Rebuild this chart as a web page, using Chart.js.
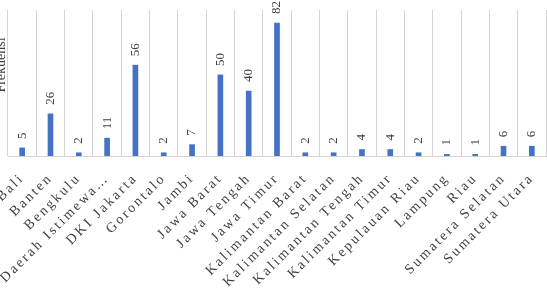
<!DOCTYPE html>
<html>
<head>
<meta charset="utf-8">
<script src="https://cdn.jsdelivr.net/npm/chart.js@4.4.1/dist/chart.umd.min.js"></script>
<style>
  html, body { margin: 0; padding: 0; background: #fff; overflow: hidden; }
</style>
</head>
<body>
<canvas id="mycanvas" width="547" height="292"></canvas>
<script>
var provinsi = ["Bali", "Banten", "Bengkulu", "Daerah Istimewa\u2026", "DKI Jakarta", "Gorontalo", "Jambi",
	"Jawa Barat", "Jawa Tengah", "Jawa Timur", "Kalimantan Barat", "Kalimantan Selatan",
	"Kalimantan Tengah", "Kalimantan Timur", "Kepulauan Riau", "Lampung", "Riau",
	"Sumatera Selatan", "Sumatera Utara"];
var frekuensi = [5, 26, 2, 11, 56, 2, 7, 50, 40, 82, 2, 2, 4, 4, 2, 1, 1, 6, 6];
var yMin = 0;
var yMax = 90;
var yTitle = "Frekuensi";

// category labels are letter spaced, everything drawn after the scales is not
var spacing = {
	id: 'spacing',
	beforeLayout: function(chart){ chart.ctx.letterSpacing = '2.4px'; },
	beforeDraw: function(chart){ chart.ctx.letterSpacing = '2.4px'; },
	beforeDatasetsDraw: function(chart){ chart.ctx.letterSpacing = '0px'; }
};

var valueLabels = {
	id: 'valueLabels',
	afterDatasetsDraw: function(chart){
		var ctx = chart.ctx;
		var meta = chart.getDatasetMeta(0);
		ctx.save();
		ctx.letterSpacing = '0px';
		ctx.font = '13px "Liberation Serif"';
		ctx.fillStyle = '#404040';
		ctx.textAlign = 'left';
		ctx.textBaseline = 'middle';
		meta.data.forEach(function(bar, i){
			ctx.save();
			ctx.translate(bar.x, bar.y - 9);
			ctx.rotate(-Math.PI / 2);
			ctx.fillText(String(frekuensi[i]), 0, 0);
			ctx.restore();
		});
		// y axis title, partly cut off at the left edge like the original
		ctx.save();
		ctx.translate(5, chart.chartArea.top + 55);
		ctx.rotate(-Math.PI / 2);
		ctx.textAlign = 'center';
		ctx.textBaseline = 'alphabetic';
		ctx.font = '14px "Liberation Serif"';
		ctx.fillText(yTitle, 0, 0);
		ctx.restore();
		ctx.restore();
	}
};

var chartdata = {
	labels: provinsi,
	datasets: [{
		label: yTitle,
		backgroundColor: "#4472C4",
		borderWidth: 0,
		barThickness: 5,
		data: frekuensi
	}]
};

var ctx = document.getElementById("mycanvas");
var BarGraph = new Chart(ctx, {
	type: 'bar',
	data: chartdata,
	plugins: [spacing, valueLabels],
	options: {
		responsive: false,
		animation: false,
		devicePixelRatio: 1,
		layout: { padding: { top: 10, right: 1, left: 8, bottom: 0 } },
		plugins: { legend: { display: false }, tooltip: { enabled: false } },
		scales: {
			x: {
				grid: { display: true, color: '#d4d4d4', lineWidth: 1, drawTicks: false, offset: true },
				border: { display: true, color: '#d4d4d4' },
				ticks: {
					autoSkip: false,
					maxRotation: 45,
					minRotation: 45,
					padding: 14,
					color: '#404040',
					font: { family: 'Liberation Serif', size: 14 }
				},
				afterFit: function(scale){
					scale.paddingLeft = 0;
					scale.paddingRight = 0;
					scale.height = 136;
				}
			},
			y: {
				display: false,
				min: yMin,
				max: yMax
			}
		}
	}
});
</script>
</body>
</html>
